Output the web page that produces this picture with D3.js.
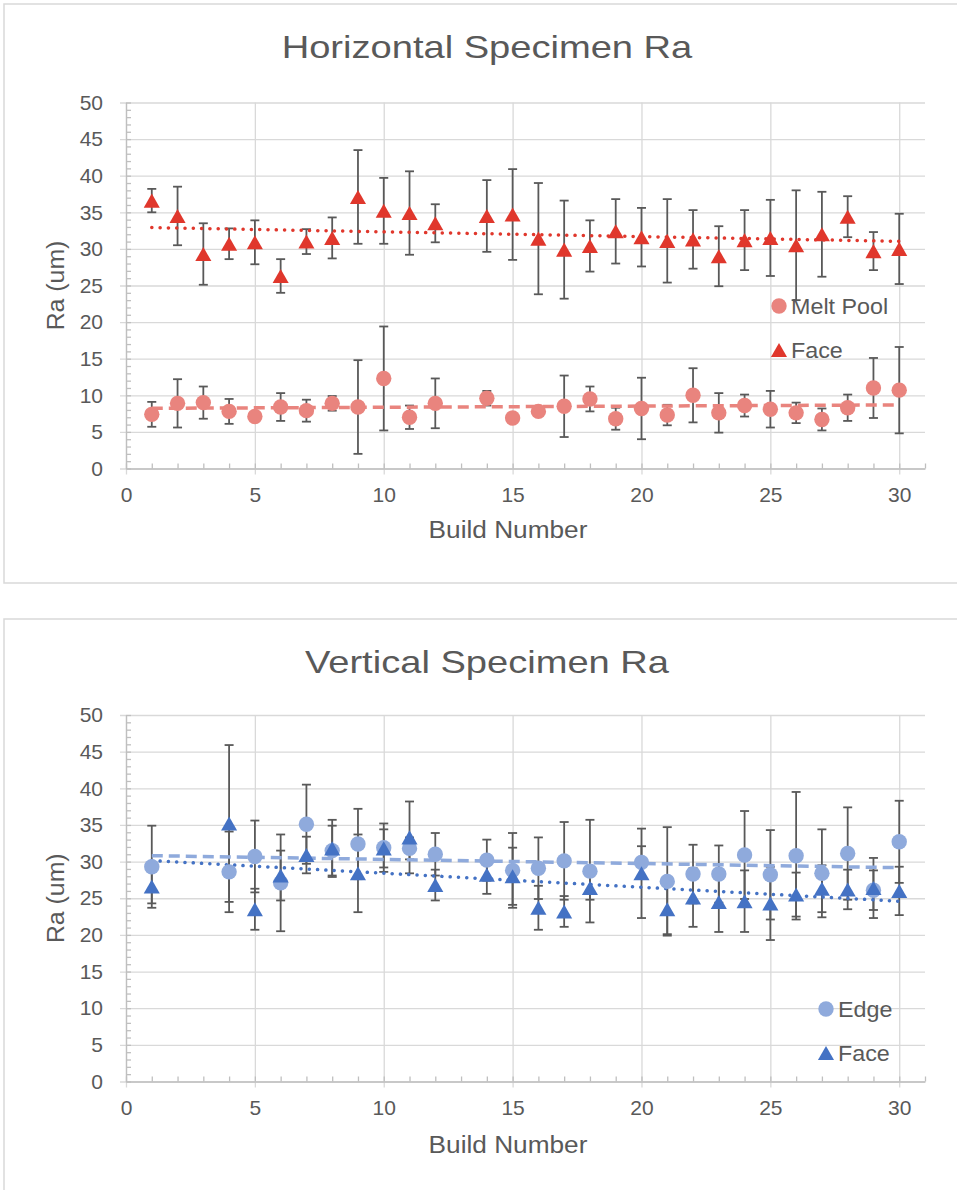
<!DOCTYPE html>
<html lang="en">
<head>
<meta charset="utf-8">
<title>Specimen Ra</title>
<script src="https://d3js.org/d3.v7.min.js"></script>
<style>
body { margin: 0; background: #fff; }
svg text { font-family: "Liberation Sans", Arial, sans-serif; fill: #595959; }
</style>
</head>
<body>
<script>
// horizontal specimens (build 13 missing)
const hBuilds = [1,2,3,4,5,6,7,8,9,10,11,12,14,15,16,17,18,19,20,21,22,23,24,25,26,27,28,29,30];
const hMeltPool    = [7.4,8.9,9.0,7.8,7.1,8.4,7.9,8.9,8.4,12.3,7.0,8.9,9.6,6.9,7.8,8.5,9.5,6.8,8.2,7.3,10.0,7.6,8.6,8.1,7.6,6.7,8.3,11.0,10.7];
const hMeltPoolErr = [1.7,3.3,2.2,1.7,0.4,1.9,1.5,1.0,6.4,7.1,1.6,3.4,1.0,0.4,0.4,4.2,1.7,1.5,4.2,1.4,3.7,2.7,1.5,2.5,1.4,1.5,1.8,4.1,5.9];
const hFace        = [36.6,34.5,29.3,30.7,30.9,26.3,31.0,31.5,37.1,35.2,34.9,33.5,34.5,34.7,31.4,29.9,30.4,32.4,31.6,31.1,31.3,29.0,31.2,31.5,30.5,32.0,34.4,29.7,30.0];
const hFaceErr     = [1.6,4.0,4.2,2.1,3.0,2.3,1.7,2.8,6.4,4.5,5.7,2.6,4.9,6.2,7.6,6.7,3.5,4.4,4.0,5.7,4.0,4.1,4.1,5.2,7.5,5.8,2.8,2.6,4.8];

// vertical specimens (builds 2, 3, 13, 19 missing)
const vBuilds = [1,4,5,6,7,8,9,10,11,12,14,15,16,17,18,20,21,22,23,24,25,26,27,28,29,30];
const vEdge    = [29.3,28.6,30.7,27.1,35.1,31.5,32.4,31.9,31.8,31.0,30.2,28.8,29.1,30.1,28.7,29.9,27.3,28.3,28.3,30.9,28.2,30.8,28.4,31.1,26.1,32.7];
const vEdgeErr = [5.6,5.5,4.9,6.6,5.4,3.4,4.8,3.3,1.5,2.9,2.8,5.1,4.2,5.3,7.0,2.2,7.4,4.0,3.9,6.0,6.1,8.7,6.0,6.3,2.7,5.6];
const vFace    = [26.6,35.2,23.5,28.1,30.9,31.8,28.4,31.8,33.3,26.8,28.2,28.0,23.7,23.2,26.4,28.4,23.5,25.1,24.5,24.6,24.3,25.5,26.3,26.2,26.4,26.0];
const vFaceErr = [2.3,10.7,2.8,3.4,2.5,3.9,5.3,2.6,4.9,2.1,2.6,3.9,3.0,2.1,1.6,6.1,3.4,4.0,4.1,4.2,5.0,3.0,3.2,2.7,4.1,3.3];

const yTicks = [0,5,10,15,20,25,30,35,40,45,50];
const xTicks = [0,5,10,15,20,25,30];

const svg = d3.select("body").append("svg")
    .attr("width", 957)
    .attr("height", 1190);

const plotLeft = 126, plotRight = 925;
const x = d3.scaleLinear().domain([0, 31]).range([plotLeft, plotRight]);

// triangle centred on its bounding box, like the spreadsheet marker
const boxTriangle = {
    draw(ctx, size) {
        const w = Math.sqrt(size) * 1.5, h = w * 0.875;
        ctx.moveTo(0, -h / 2);
        ctx.lineTo(w / 2, h / 2);
        ctx.lineTo(-w / 2, h / 2);
        ctx.closePath();
    }
};

function linFit(xs, ys) {
    const mx = d3.mean(xs), my = d3.mean(ys);
    const b = d3.sum(xs, (v, i) => (v - mx) * (ys[i] - my)) / d3.sum(xs, v => (v - mx) * (v - mx));
    return v => my + b * (v - mx);
}

// the original font runs a little wider than Liberation Sans
function widen(sel, k) {
    const w = sel.node().getComputedTextLength();
    sel.attr("textLength", w * k).attr("lengthAdjust", "spacingAndGlyphs");
}

function drawChart(cfg) {
    const y = d3.scaleLinear().domain([0, 50]).range([cfg.y0, cfg.y50]);
    const g = svg.append("g");

    g.append("rect")
        .attr("x", 4).attr("y", cfg.top)
        .attr("width", 980).attr("height", 579)
        .attr("fill", "none").attr("stroke", "#d9d9d9").attr("stroke-width", 1.5);

    g.append("text")
        .attr("x", 487).attr("y", cfg.top + 54)
        .attr("text-anchor", "middle")
        .style("font-size", "32px")
        .text(cfg.title)
        .call(widen, 1.19);

    // horizontal gridlines + y labels
    const gy = g.append("g")
        .attr("transform", `translate(${plotLeft},0)`)
        .call(d3.axisLeft(y).tickValues(yTicks).tickSize(-(plotRight - plotLeft)).tickSizeOuter(0).tickPadding(23));
    gy.select(".domain").remove();
    gy.selectAll(".tick line").attr("x1", -6).attr("stroke", "#d9d9d9").attr("stroke-width", 1.3);
    gy.selectAll(".tick text").style("font-size", "21px");

    // vertical gridlines + x labels
    const gx = g.append("g")
        .attr("transform", `translate(0,${cfg.y0})`)
        .call(d3.axisBottom(x).tickValues(xTicks).tickSize(-(cfg.y0 - cfg.y50)).tickSizeOuter(0).tickPadding(19));
    gx.select(".domain").remove();
    gx.selectAll(".tick line").attr("y1", 6).attr("stroke", "#d9d9d9").attr("stroke-width", 1.3);
    gx.selectAll(".tick text").style("font-size", "21px");

    // axis lines with minor ticks
    const my = g.append("g")
        .attr("transform", `translate(${plotLeft},0)`)
        .call(d3.axisRight(y).tickValues(d3.range(0, 51)).tickSize(5).tickSizeOuter(0).tickFormat(""));
    my.selectAll("path, line").attr("stroke", "#bfbfbf").attr("stroke-width", 1.3);
    const mx = g.append("g")
        .attr("transform", `translate(0,${cfg.y0})`)
        .call(d3.axisTop(x).tickValues(d3.range(0, 32)).tickSize(5).tickSizeOuter(0).tickFormat(""));
    mx.selectAll("path, line").attr("stroke", "#bfbfbf").attr("stroke-width", 1.3);

    // axis titles
    g.append("text")
        .attr("x", 508).attr("y", cfg.top + 534)
        .attr("text-anchor", "middle")
        .style("font-size", "23px")
        .text("Build Number")
        .call(widen, 1.14);
    g.append("text")
        .attr("transform", `translate(64,${(cfg.y0 + cfg.y50) / 2}) rotate(-90)`)
        .attr("text-anchor", "middle")
        .style("font-size", "23px")
        .text("Ra (um)")
        .call(widen, 1.08);

    const pts = s => s.builds.map((b, i) => ({b: b, v: s.values[i], e: s.errs[i]}));

    // error bars
    cfg.series.forEach(s => {
        const eb = g.append("g").attr("stroke", "#595959").attr("stroke-width", 1.8);
        const d = pts(s);
        eb.selectAll(".v").data(d).join("line")
            .attr("x1", p => x(p.b)).attr("x2", p => x(p.b))
            .attr("y1", p => y(p.v - p.e)).attr("y2", p => y(p.v + p.e));
        eb.selectAll(".hi").data(d).join("line").attr("class", "hi")
            .attr("x1", p => x(p.b) - 4.5).attr("x2", p => x(p.b) + 4.5)
            .attr("y1", p => y(p.v + p.e)).attr("y2", p => y(p.v + p.e));
        eb.selectAll(".lo").data(d).join("line").attr("class", "lo")
            .attr("x1", p => x(p.b) - 4.5).attr("x2", p => x(p.b) + 4.5)
            .attr("y1", p => y(p.v - p.e)).attr("y2", p => y(p.v - p.e));
    });

    // linear trendlines
    cfg.series.forEach(s => {
        const f = linFit(s.builds, s.values);
        const b0 = d3.min(s.builds), b1 = d3.max(s.builds);
        g.append("line")
            .attr("x1", x(b0)).attr("y1", y(f(b0)))
            .attr("x2", x(b1)).attr("y2", y(f(b1)))
            .attr("stroke", s.color)
            .attr("stroke-width", 3.5)
            .attr("stroke-linecap", s.dash == "dot" ? "round" : "butt")
            .attr("stroke-dasharray", s.dash == "dot" ? "0.1,8.2" : "11,6");
    });

    // markers
    cfg.series.forEach(s => {
        g.append("g").selectAll("path").data(pts(s)).join("path")
            .attr("transform", p => `translate(${x(p.b)},${y(p.v)})`)
            .attr("d", d3.symbol().type(s.marker == "circle" ? d3.symbolCircle : boxTriangle).size(s.marker == "circle" ? 186 : 115))
            .attr("fill", s.color);
    });

    // legend
    cfg.series.forEach((s, i) => {
        const ly = cfg.legendY + i * 44;
        g.append("path")
            .attr("transform", `translate(${cfg.legendX},${ly})`)
            .attr("d", d3.symbol().type(s.marker == "circle" ? d3.symbolCircle : boxTriangle).size(s.marker == "circle" ? 186 : 115))
            .attr("fill", s.color);
        g.append("text")
            .attr("x", cfg.legendX + 12).attr("y", ly + 8)
            .style("font-size", "22px")
            .text(s.name)
            .call(widen, 1.06);
    });
}

drawChart({
    top: 4, y0: 468.5, y50: 102.5,
    title: "Horizontal Specimen Ra",
    legendX: 779, legendY: 306,
    series: [
        {name: "Melt Pool", builds: hBuilds, values: hMeltPool, errs: hMeltPoolErr, color: "#e9847e", marker: "circle", dash: "dash"},
        {name: "Face", builds: hBuilds, values: hFace, errs: hFaceErr, color: "#e0372c", marker: "triangle", dash: "dot"}
    ]
});

drawChart({
    top: 619, y0: 1081.5, y50: 715,
    title: "Vertical Specimen Ra",
    legendX: 826, legendY: 1009,
    series: [
        {name: "Edge", builds: vBuilds, values: vEdge, errs: vEdgeErr, color: "#8faadc", marker: "circle", dash: "dash"},
        {name: "Face", builds: vBuilds, values: vFace, errs: vFaceErr, color: "#4472c4", marker: "triangle", dash: "dot"}
    ]
});
</script>
</body>
</html>
